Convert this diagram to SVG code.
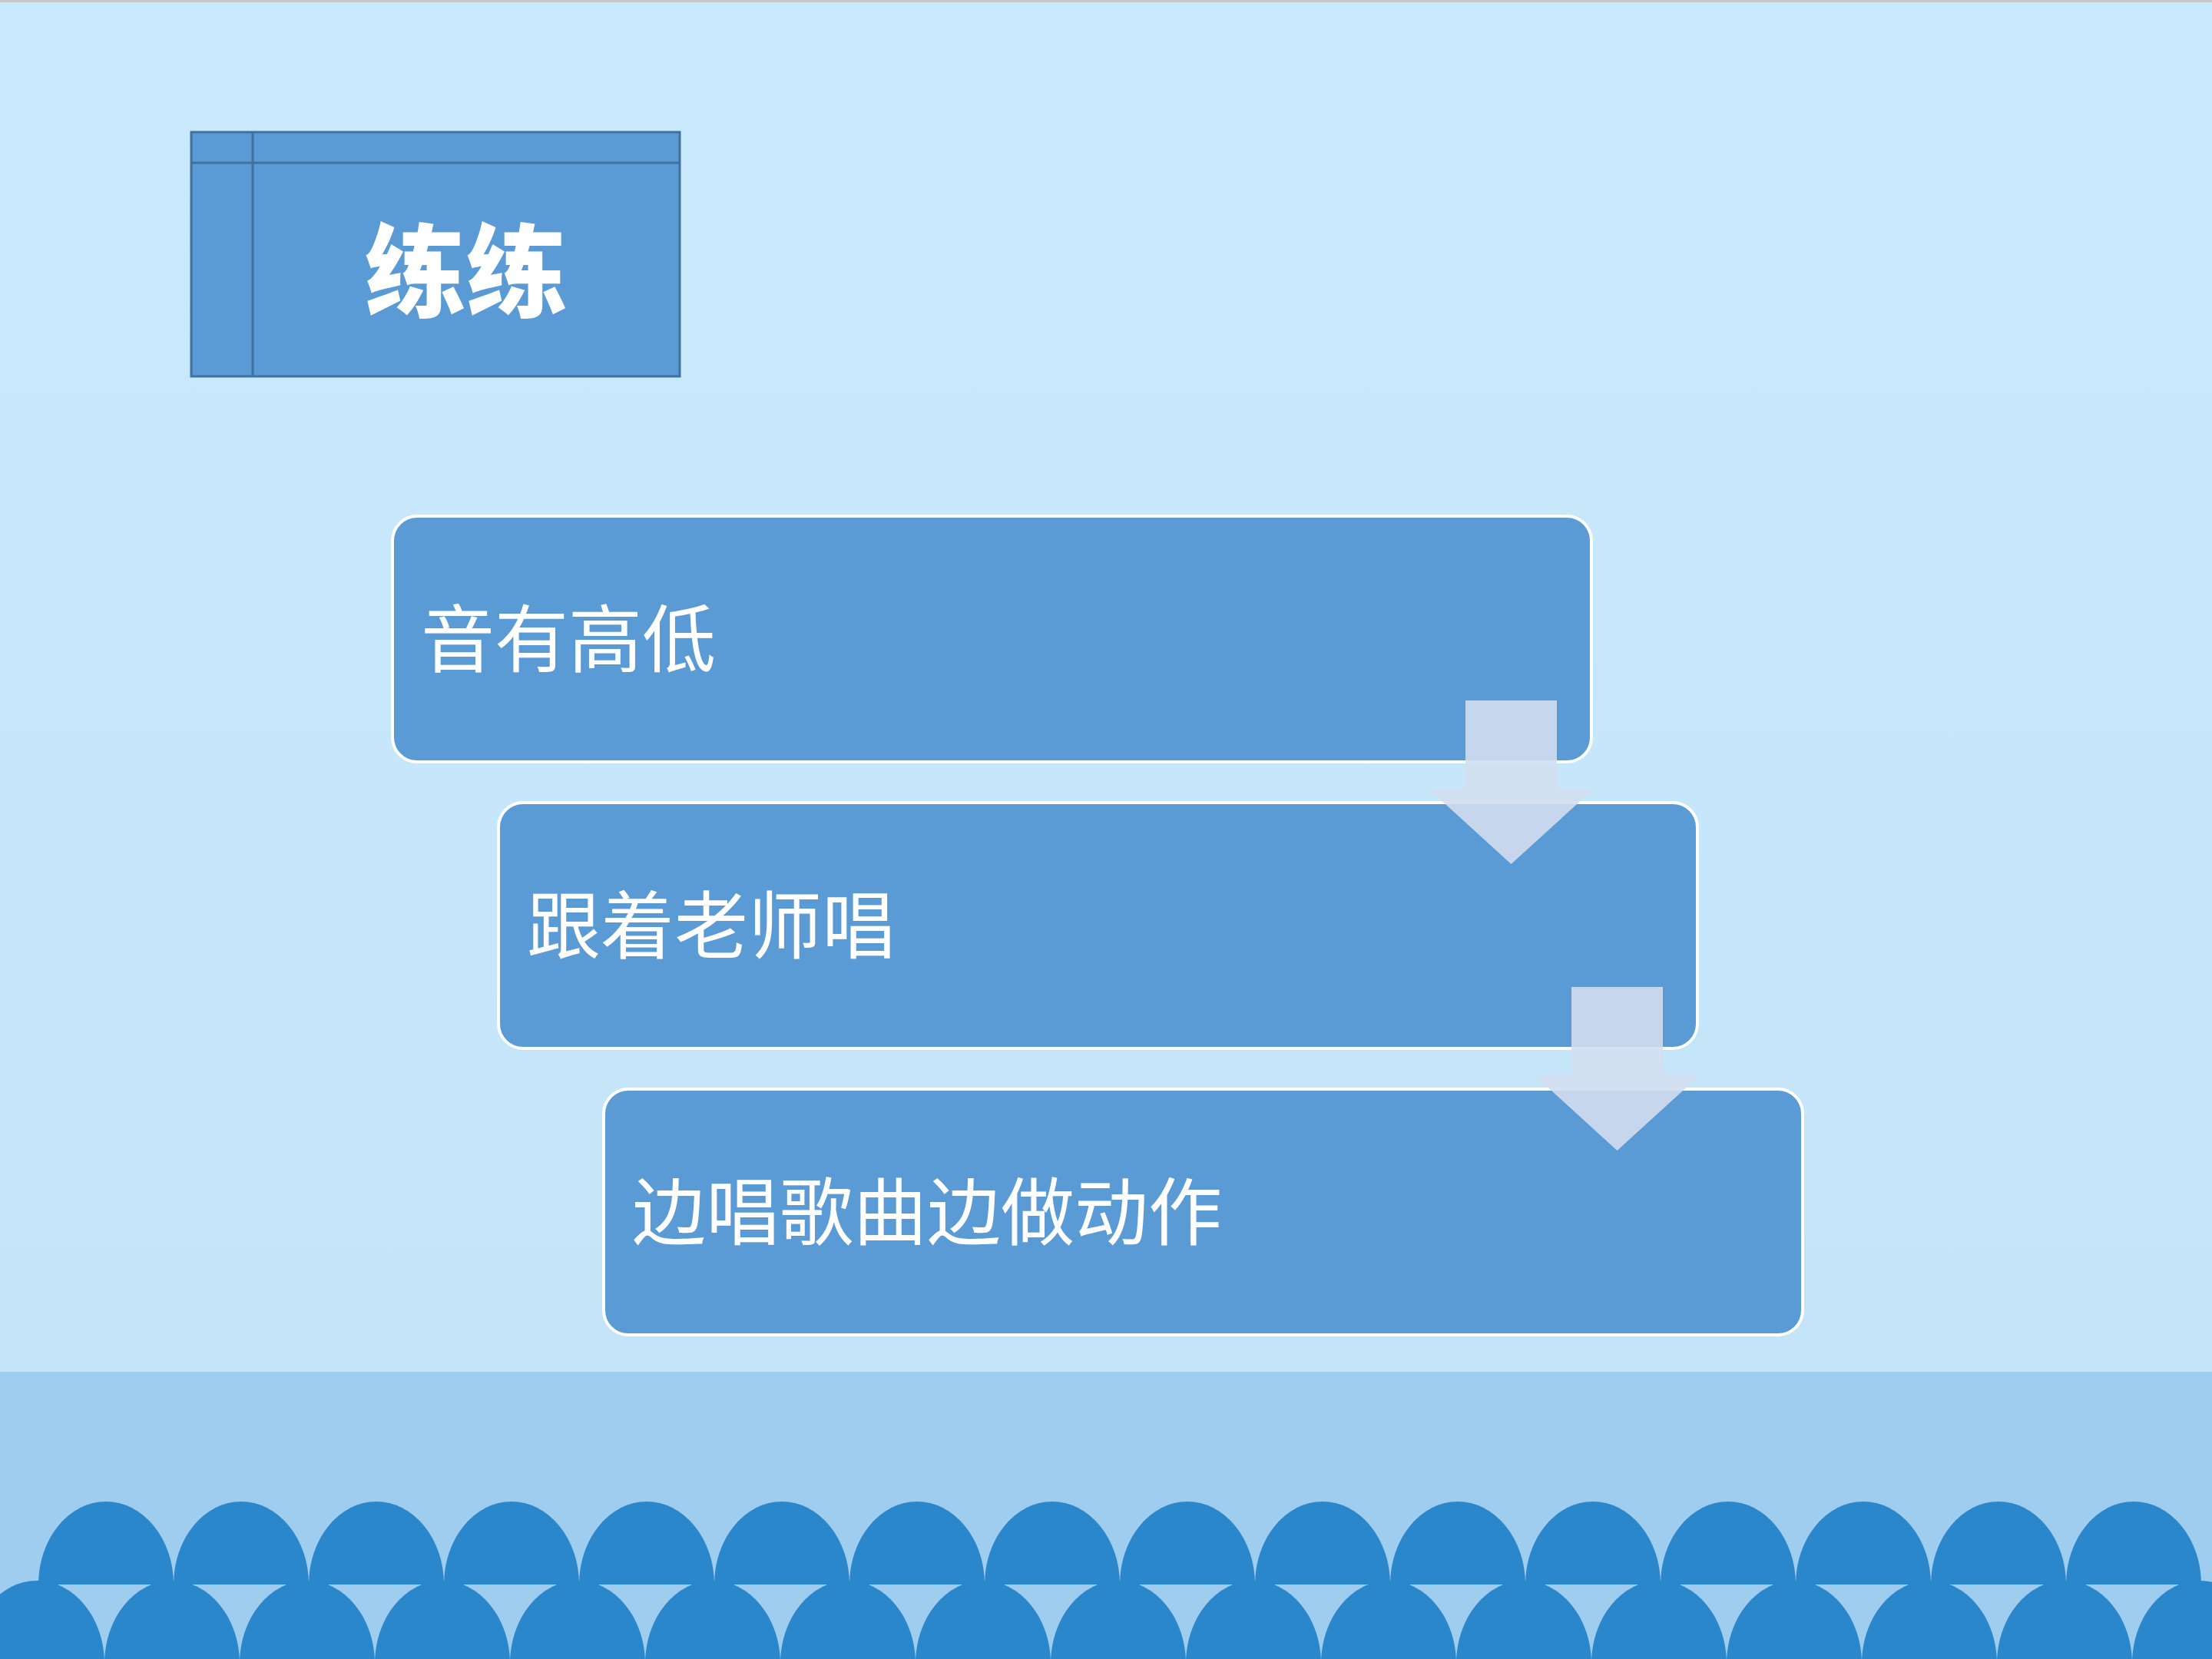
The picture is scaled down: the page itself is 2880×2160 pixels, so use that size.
<svg xmlns="http://www.w3.org/2000/svg" xmlns:xlink="http://www.w3.org/1999/xlink" width="2880" height="2160" viewBox="0 0 2880 2160">
<defs>
<linearGradient id="bg" x1="0" y1="0" x2="0" y2="1">
<stop offset="0" stop-color="#c8eafc"/>
<stop offset="1" stop-color="#c4e5f7"/>
</linearGradient>
<path id="arch" d="M -88 108 A 88 108 0 0 1 88 108 Z" fill="#2a87cb"/>
<path id="arrow" d="M -59.5 0 H 59.5 V 115 H 107.5 L 0 213 L -107.5 115 H -59.5 Z"/>
</defs>
<style>
.step{fill:#5b9bd5;stroke:#ffffff;stroke-width:4}
.steptxt{font-family:"Noto Sans CJK SC","Noto Sans",sans-serif;font-size:96px;fill:#ffffff}
.title{font-family:"Noto Sans CJK SC","Noto Sans",sans-serif;font-size:132px;font-weight:900;fill:#ffffff}
.tbox{fill:#5b9bd5;stroke:#41719c;stroke-width:3}
.tline{stroke:#41719c;stroke-width:3;fill:none}
.arr{fill:#d1def0;fill-opacity:0.9}
</style>
<rect x="0" y="0" width="2880" height="1786" fill="url(#bg)"/>
<rect x="0" y="0" width="2880" height="3" fill="#c8c8c8"/>
<rect x="0" y="1786" width="2880" height="374" fill="#9fcdf0"/>
<g id="scallops">
<use href="#arch" x="138" y="1955"/><use href="#arch" x="314" y="1955"/><use href="#arch" x="490" y="1955"/><use href="#arch" x="666" y="1955"/>
<use href="#arch" x="842" y="1955"/><use href="#arch" x="1018" y="1955"/><use href="#arch" x="1194" y="1955"/><use href="#arch" x="1370" y="1955"/>
<use href="#arch" x="1546" y="1955"/><use href="#arch" x="1722" y="1955"/><use href="#arch" x="1898" y="1955"/><use href="#arch" x="2074" y="1955"/>
<use href="#arch" x="2250" y="1955"/><use href="#arch" x="2426" y="1955"/><use href="#arch" x="2602" y="1955"/><use href="#arch" x="2778" y="1955"/>
<use href="#arch" x="48" y="2058"/><use href="#arch" x="224" y="2058"/><use href="#arch" x="400" y="2058"/><use href="#arch" x="576" y="2058"/>
<use href="#arch" x="752" y="2058"/><use href="#arch" x="928" y="2058"/><use href="#arch" x="1104" y="2058"/><use href="#arch" x="1280" y="2058"/>
<use href="#arch" x="1456" y="2058"/><use href="#arch" x="1632" y="2058"/><use href="#arch" x="1808" y="2058"/><use href="#arch" x="1984" y="2058"/>
<use href="#arch" x="2160" y="2058"/><use href="#arch" x="2336" y="2058"/><use href="#arch" x="2512" y="2058"/><use href="#arch" x="2688" y="2058"/>
<use href="#arch" x="2864" y="2058"/>
</g>
<g id="title">
<rect x="249" y="172" width="636" height="318" class="tbox"/>
<line x1="249" y1="212" x2="885" y2="212" class="tline"/>
<line x1="329" y1="172" x2="329" y2="490" class="tline"/>
<text x="607" y="403" text-anchor="middle" class="title">练练</text>
</g>
<g id="step1">
<rect x="511" y="672" width="1561" height="320" rx="32" class="step"/>
<text x="548" y="867" class="steptxt">音有高低</text>
</g>
<g id="step2">
<rect x="649" y="1045" width="1561" height="320" rx="32" class="step"/>
<text x="686" y="1240" class="steptxt">跟着老师唱</text>
</g>
<g id="step3">
<rect x="786" y="1418" width="1561" height="320" rx="32" class="step"/>
<text x="823" y="1613" class="steptxt">边唱歌曲边做动作</text>
</g>
<g id="connectors">
<use href="#arrow" class="arr" x="1967.5" y="912"/>
<use href="#arrow" class="arr" x="2105.5" y="1285"/>
</g>
</svg>
